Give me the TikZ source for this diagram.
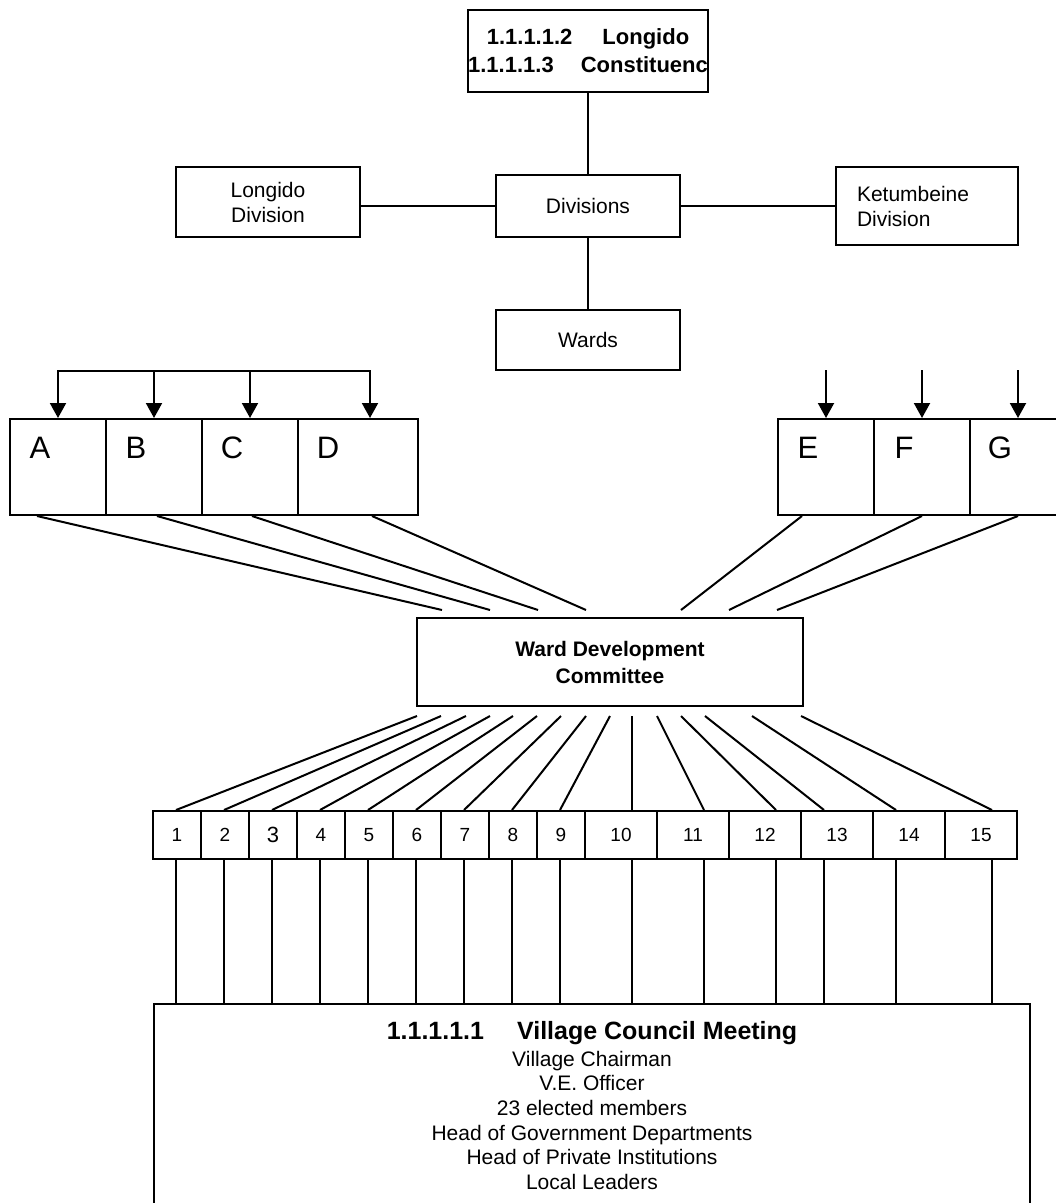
\documentclass[tikz,border=0pt]{standalone}
\usepackage{fontspec}
\setmainfont{Liberation Sans}
\usetikzlibrary{arrows.meta}

\begin{document}
\begin{tikzpicture}[x=1pt, y=-1pt,
    box/.style={draw, line width=2pt, inner sep=0pt, align=center,
                font=\fontsize{21}{25}\selectfont},
    cell/.style={draw, line width=2pt, inner sep=0pt, minimum height=96pt},
    letter/.style={anchor=center, xshift=31pt, yshift=-30pt, inner sep=0pt,
                   font=\fontsize{31}{31}\selectfont},
    numbox/.style={draw, line width=2pt, inner sep=0pt, minimum height=48pt,
                   font=\fontsize{19}{19}\selectfont},
    link/.style={line width=2pt},
    arrow/.style={-{Triangle[width=16pt,length=15pt]}, line width=2pt}
  ]
    \useasboundingbox (0,0) rectangle (1056,1203);
    \clip (0,0) rectangle (1056,1203);

    % Top: constituency, divisions, wards
    \node[box, minimum width=236pt, minimum height=82pt,
          font=\fontsize{22}{28}\selectfont\bfseries] (lc) at (588,51)
      {1.1.1.1.2\hspace{30pt}Longido\\1.1.1.1.3\hspace{27pt}Constituenc};
    \node[box, minimum width=184pt, minimum height=62pt] (div) at (588,206) {Divisions};
    \node[box, minimum width=184pt, minimum height=70pt] (lon) at (268,202) {Longido\\Division};
    \node[box, minimum width=182pt, minimum height=78pt, align=left,
          text width=140pt, inner xsep=21pt] (ket) at (927,206) {Ketumbeine\\Division};
    \node[box, minimum width=184pt, minimum height=60pt] (wards) at (588,340) {Wards};

    \draw[link] (lc.south) -- (lc.south |- div.north);
    \draw[link] (div.west) -- (div.west -| lon.east);
    \draw[link] (div.east) -- (div.east -| ket.west);
    \draw[link] (div.south) -- (wards.north);

    % Ward cells A-G
    \foreach \n/\cx/\w in {A/58/96, B/154/96, C/250/96, D/358/120,
                           E/826/96, F/922/96, G/1018/96}
      \node[cell, minimum width=\w pt, label={[letter]north west:\n}] (\n) at (\cx,467) {};

    \coordinate (busL) at (0,371);
    \coordinate (busR) at (0,370);
    \coordinate (dtop) at ([xshift=12pt]D.north);
    \draw[arrow] (B.north |- busL) -| (A.north);
    \draw[arrow] (B.north |- busL) -- (B.north);
    \draw[arrow] (C.north |- busL) -- (C.north);
    \draw[arrow] (B.north |- busL) -| (dtop);
    \foreach \n in {E,F,G}
      \draw[arrow] (\n.north |- busR) -- (\n.north);

    % Ward Development Committee
    \node[box, minimum width=386pt, minimum height=88pt,
          font=\fontsize{21}{27}\selectfont\bfseries] (wdc) at (610,662)
      {Ward Development\\Committee};

    \draw[link] ([xshift=-21pt]A.south) -- ([xshift=26pt,yshift=7pt]wdc.north west);
    \draw[link] ([xshift=3pt]B.south) -- ([xshift=74pt,yshift=7pt]wdc.north west);
    \draw[link] ([xshift=2pt]C.south) -- ([xshift=122pt,yshift=7pt]wdc.north west);
    \draw[link] ([xshift=14pt]D.south) -- ([xshift=170pt,yshift=7pt]wdc.north west);
    \draw[link] ([xshift=-24pt]E.south) -- ([xshift=265pt,yshift=7pt]wdc.north west);
    \draw[link] (F.south) -- ([xshift=313pt,yshift=7pt]wdc.north west);
    \draw[link] (G.south) -- ([xshift=361pt,yshift=7pt]wdc.north west);

    % Villages 1-15
    \foreach \i in {1,...,9}
      \node[numbox, minimum width=48pt] (n\i) at ({129+48*\i},835)
        {\ifnum\i=3 \fontsize{22}{22}\selectfont\fi\i};
    \foreach \i in {10,...,15}
      \node[numbox, minimum width=72pt] (n\i) at ({72*\i-99},835) {\i};

    % Village Council Meeting
    \node[draw, line width=2pt, inner sep=0pt, minimum width=876pt,
          minimum height=240pt, anchor=north] (vcm) at (592,1003) {};
    \node[anchor=north, align=center, inner sep=0pt,
          font=\fontsize{21}{24.7}\selectfont] (vcmtext) at (592,1021)
      {{\fontsize{25}{27}\selectfont\bfseries 1.1.1.1.1\hspace{33pt}Village Council Meeting}\\[2pt]
       Village Chairman\\V.E. Officer\\23 elected members\\
       Head of Government Departments\\Head of Private Institutions\\Local Leaders};

    \foreach \i/\s/\e in {1/1/24, 2/25/24, 3/50/24, 4/74/24, 5/97/24, 6/121/24,
                          7/145/24, 8/170/24, 9/194/24, 10/216/48, 11/241/48,
                          12/265/48, 13/289/24, 14/336/24, 15/385/48} {
      \coordinate (t\i) at ([xshift=\e pt]n\i.north west);
      \coordinate (b\i) at ([xshift=\e pt]n\i.south west);
      \draw[link] ([xshift=\s pt, yshift=-9pt]wdc.south west) -- (t\i);
      \draw[link] (b\i) -- (b\i |- vcm.north);
    }
\end{tikzpicture}
\end{document}
